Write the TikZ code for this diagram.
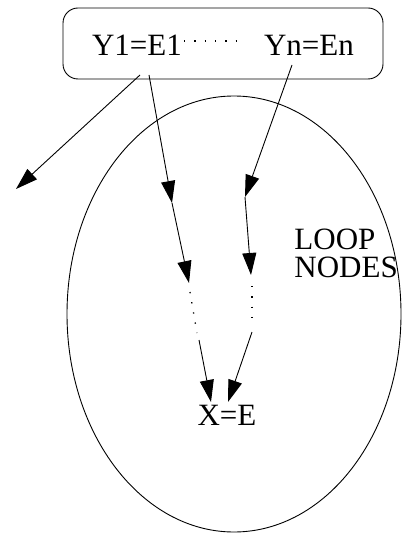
\documentclass[tikz,border=0pt]{standalone}
\usepackage{fontspec}
\setmainfont{Liberation Serif}
\usetikzlibrary{arrows.meta}

\begin{document}
\begin{tikzpicture}[x=1pt,y=-1pt,line width=0.9pt,
  every node/.style={font=\fontsize{31}{28}\selectfont,inner sep=0pt},
  arr/.style={-{Triangle[length=22pt,width=14pt]}},
  dotline/.style={line width=1.3pt,dash pattern=on 1.3pt off 9pt}]
\useasboundingbox (0,0) rectangle (401,534);
\node[draw,rounded corners=15pt,minimum width=320pt,minimum height=71pt] (box) at (223,43.5) {};
\node[anchor=base] (y1) at (137,56) {Y1=E1};
\node[anchor=base] (yn) at (309,56) {Yn=En};
\node[anchor=base] (x) at (227,425) {X=E};
\node[align=left,anchor=base west] (loop) at (294,277) {LOOP\\NODES};
\draw (234,314) ellipse (167pt and 218pt);
\draw[dotline] (184,41) -- (238,41);
% outer arrow
\coordinate (s0) at (140,75);
\coordinate (out) at (16,189);
\draw[arr] (s0) -- (out);
% left chain
\coordinate (s1) at (149,75);
\coordinate (a1) at (172,203);
\coordinate (a2) at (189,283);
\coordinate (a3) at (190,292);
\coordinate (a4) at (197,333);
\coordinate (a5) at (199,340);
\coordinate (a6) at (211,402);
\draw[arr] (s1) -- (a1);
\draw[arr] (a1) -- (a2);
\draw[dotline] (a3) -- (a4);
\draw[arr] (a5) -- (a6);
% right chain
\coordinate (s2) at (292,65);
\coordinate (b1) at (245,197);
\coordinate (b2) at (251,275);
\coordinate (b3) at (252,286);
\coordinate (b4) at (252,322);
\coordinate (b5) at (252,332);
\coordinate (b6) at (228,402);
\draw[arr] (s2) -- (b1);
\draw[arr] (b1) -- (b2);
\draw[dotline] (b3) -- (b4);
\draw[arr] (b5) -- (b6);
\end{tikzpicture}
\end{document}
